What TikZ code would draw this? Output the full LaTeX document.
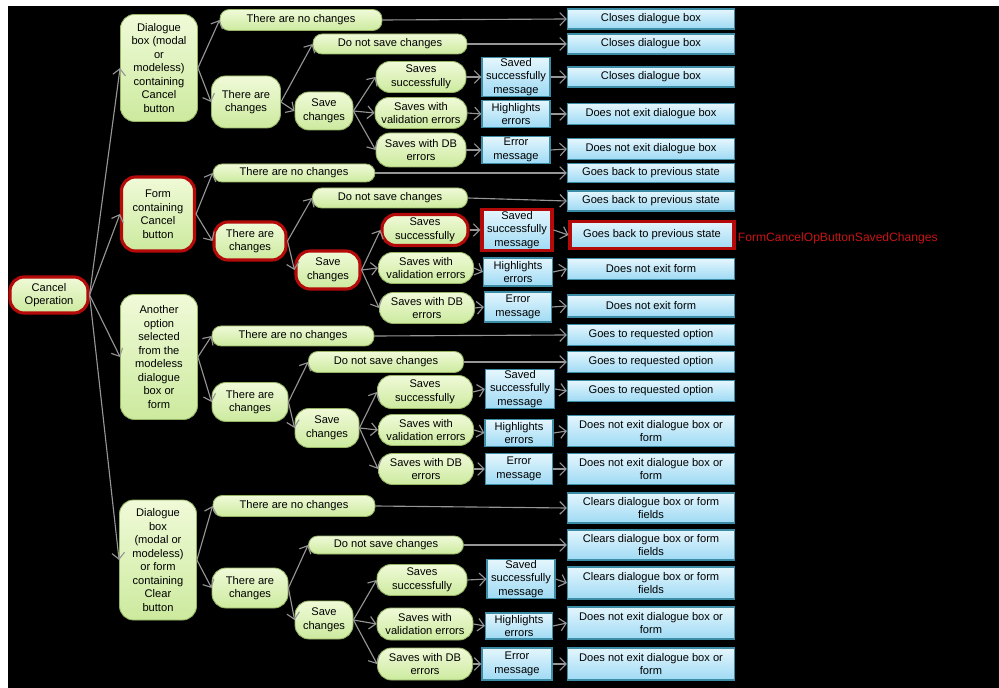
\documentclass[tikz,border=0pt]{standalone}
\usepackage{fontspec}
\setmainfont{Liberation Sans}
\usetikzlibrary{arrows.meta}

\definecolor{optTop}{RGB}{240,250,216}
\definecolor{optBot}{RGB}{204,234,158}
\definecolor{optLine}{RGB}{150,180,100}
\definecolor{resTop}{RGB}{228,246,253}
\definecolor{resBot}{RGB}{158,218,244}
\definecolor{resLine}{RGB}{60,140,165}
\definecolor{selRed}{RGB}{180,10,10}
\definecolor{tagRed}{RGB}{200,20,20}
\definecolor{linkGray}{RGB}{150,150,150}

\tikzset{
  sz/.style 2 args={minimum width=#1*0.025cm, minimum height=#2*0.025cm},
  txt/.style={font=\fontsize{7.9}{9.6}\selectfont},
  opt/.style={txt, draw=optLine, line width=0.6pt, top color=optTop, bottom color=optBot,
    rounded corners=0.35cm, align=center, inner sep=1pt},
  pill/.style={opt, rounded corners=0.23cm},
  res/.style={txt, draw=resLine, line width=0.8pt, top color=resTop, bottom color=resBot,
    align=center, inner sep=0.5pt},
  sel/.style={draw=selRed, line width=2.2pt},
  link/.style={draw=linkGray, line width=0.8pt, -{Straight Barb[length=4.5pt,width=9pt]}}
}

\begin{document}
\begin{tikzpicture}[x=0.025cm, y=-0.025cm]

  % background
  \useasboundingbox (0,0) rectangle (999,688);
  \fill[white] (0,0) rectangle (999,688);
  \fill[black] (8,6) rectangle (999,688);

  % root
  \node[opt, sel, sz={78}{36}] (root) at (49,295) {Cancel\\Operation};

  % dialogue box with Cancel button
  \node[opt, sz={77}{107}] (dlg) at (159,68) {Dialogue\\box (modal\\or\\modeless)\\containing\\Cancel\\button};
  \node[pill, sz={162}{21}] (dlg-none) at (301,20) {There are no changes};
  \node[opt, sz={69}{52}] (dlg-chg) at (246,102) {There are\\changes};
  \node[pill, sz={154}{20}] (dlg-nosave) at (390,44) {Do not save changes};
  \node[opt, sz={58}{38}] (dlg-save) at (324,111) {Save\\changes};
  \node[opt, sz={90}{31}] (dlg-ok) at (421,77) {Saves\\successfully};
  \node[opt, sz={92}{31}] (dlg-val) at (421,113) {Saves with\\validation errors};
  \node[opt, sz={90}{34}] (dlg-db) at (421,150) {Saves with DB\\errors};
  \node[res, sz={68}{39}] (dlg-msg) at (516,77) {Saved\\successfully\\message};
  \node[res, sz={68}{27}] (dlg-hl) at (516,114) {Highlights\\errors};
  \node[res, sz={68}{27}] (dlg-err) at (516,150) {Error\\message};
  \node[res, sz={167}{20}] (dlg-r1) at (651,19) {Closes dialogue box};
  \node[res, sz={167}{20}] (dlg-r2) at (651,44) {Closes dialogue box};
  \node[res, sz={167}{20}] (dlg-r3) at (651,77) {Closes dialogue box};
  \node[res, sz={167}{21}] (dlg-r4) at (651,114) {Does not exit dialogue box};
  \node[res, sz={167}{21}] (dlg-r5) at (651,149) {Does not exit dialogue box};

  % form with Cancel button
  \node[opt, sel, sz={73}{74}] (form) at (158,214) {Form\\containing\\Cancel\\button};
  \node[pill, sz={162}{18}] (form-none) at (294,173) {There are no changes};
  \node[opt, sel, sz={72}{38}] (form-chg) at (250,241) {There are\\changes};
  \node[pill, sz={155}{20}] (form-nosave) at (390,198) {Do not save changes};
  \node[opt, sel, sz={64}{38}] (form-save) at (328,270) {Save\\changes};
  \node[opt, sel, sz={86}{31}] (form-ok) at (425,230) {Saves\\successfully};
  \node[opt, sz={95}{31}] (form-val) at (426,268) {Saves with\\validation errors};
  \node[opt, sz={95}{31}] (form-db) at (427,308) {Saves with DB\\errors};
  \node[res, sel, sz={70}{41}] (form-msg) at (517,230) {Saved\\successfully\\message};
  \node[res, sz={69}{28}] (form-hl) at (518,272) {Highlights\\errors};
  \node[res, sz={67}{30}] (form-err) at (518,307) {Error\\message};
  \node[res, sz={167}{19}] (form-r1) at (651,173) {Goes back to previous state};
  \node[res, sz={167}{20}] (form-r2) at (651,201) {Goes back to previous state};
  \node[res, sel, sz={164}{27}] (form-r3) at (652,235) {Goes back to previous state};
  \node[res, sz={167}{21}] (form-r4) at (651,269) {Does not exit form};
  \node[res, sz={167}{22}] (form-r5) at (651,306) {Does not exit form};
  \node[font=\fontsize{8.6}{10}\selectfont, text=tagRed, anchor=west, inner sep=0.5pt] (tag) at (737,238) {FormCancelOpButtonSavedChanges};

  % other option selected
  \node[opt, sz={77}{125}] (other) at (159,357) {Another\\option\\selected\\from the\\modeless\\dialogue\\box or\\form};
  \node[pill, sz={162}{20}] (other-none) at (293,336) {There are no changes};
  \node[opt, sz={76}{39}] (other-chg) at (250,402) {There are\\changes};
  \node[pill, sz={155}{21}] (other-nosave) at (386,362) {Do not save changes};
  \node[opt, sz={64}{39}] (other-save) at (327,428) {Save\\changes};
  \node[opt, sz={95}{33}] (other-ok) at (425,392) {Saves\\successfully};
  \node[opt, sz={95}{31}] (other-val) at (426,430) {Saves with\\validation errors};
  \node[opt, sz={95}{31}] (other-db) at (426,469) {Saves with DB\\errors};
  \node[res, sz={69}{39}] (other-msg) at (520,389) {Saved\\successfully\\message};
  \node[res, sz={68}{27}] (other-hl) at (519,433) {Highlights\\errors};
  \node[res, sz={67}{31}] (other-err) at (519,469) {Error\\message};
  \node[res, sz={167}{21}] (other-r1) at (651,335) {Goes to requested option};
  \node[res, sz={167}{21}] (other-r2) at (651,362) {Goes to requested option};
  \node[res, sz={167}{21}] (other-r3) at (651,391) {Goes to requested option};
  \node[res, sz={167}{31}] (other-r4) at (651,431) {Does not exit dialogue box or\\form};
  \node[res, sz={167}{31}] (other-r5) at (651,469) {Does not exit dialogue box or\\form};

  % dialogue box or form with Clear button
  \node[opt, sz={77}{120}] (clear) at (158,560) {Dialogue\\box\\(modal or\\modeless)\\or form\\containing\\Clear\\button};
  \node[pill, sz={162}{21}] (clear-none) at (294,506) {There are no changes};
  \node[opt, sz={76}{40}] (clear-chg) at (250,588) {There are\\changes};
  \node[pill, sz={155}{18}] (clear-nosave) at (386,545) {Do not save changes};
  \node[opt, sz={58}{38}] (clear-save) at (324,620) {Save\\changes};
  \node[opt, sz={90}{31}] (clear-ok) at (422,580) {Saves\\successfully};
  \node[opt, sz={96}{32}] (clear-val) at (425,624) {Saves with\\validation errors};
  \node[opt, sz={95}{32}] (clear-db) at (425,664) {Saves with DB\\errors};
  \node[res, sz={68}{38}] (clear-msg) at (521,579) {Saved\\successfully\\message};
  \node[res, sz={67}{26}] (clear-hl) at (519,626) {Highlights\\errors};
  \node[res, sz={70}{32}] (clear-err) at (517,664) {Error\\message};
  \node[res, sz={167}{30}] (clear-r1) at (651,508) {Clears dialogue box or form\\fields};
  \node[res, sz={167}{30}] (clear-r2) at (651,545) {Clears dialogue box or form\\fields};
  \node[res, sz={167}{32}] (clear-r3) at (651,583) {Clears dialogue box or form\\fields};
  \node[res, sz={167}{32}] (clear-r4) at (651,623) {Does not exit dialogue box or\\form};
  \node[res, sz={167}{32}] (clear-r5) at (651,664) {Does not exit dialogue box or\\form};

  % connectors, same for every branch
  \foreach \g in {dlg,form,other,clear} {
    \draw[link] (root.east) -- (\g.west);
    \draw[link] (\g.east) -- (\g-none.west);
    \draw[link] (\g.east) -- (\g-chg.west);
    \draw[link] (\g-chg.east) -- (\g-nosave.west);
    \draw[link] (\g-chg.east) -- (\g-save.west);
    \draw[link] (\g-save.east) -- (\g-ok.west);
    \draw[link] (\g-save.east) -- (\g-val.west);
    \draw[link] (\g-save.east) -- (\g-db.west);
    \draw[link] (\g-ok.east) -- (\g-msg.west);
    \draw[link] (\g-val.east) -- (\g-hl.west);
    \draw[link] (\g-db.east) -- (\g-err.west);
    \draw[link] (\g-none.east) -- (\g-r1.west);
    \draw[link] (\g-nosave.east) -- (\g-r2.west);
    \draw[link] (\g-msg.east) -- (\g-r3.west);
    \draw[link] (\g-hl.east) -- (\g-r4.west);
    \draw[link] (\g-err.east) -- (\g-r5.west);
  }
\end{tikzpicture}
\end{document}
